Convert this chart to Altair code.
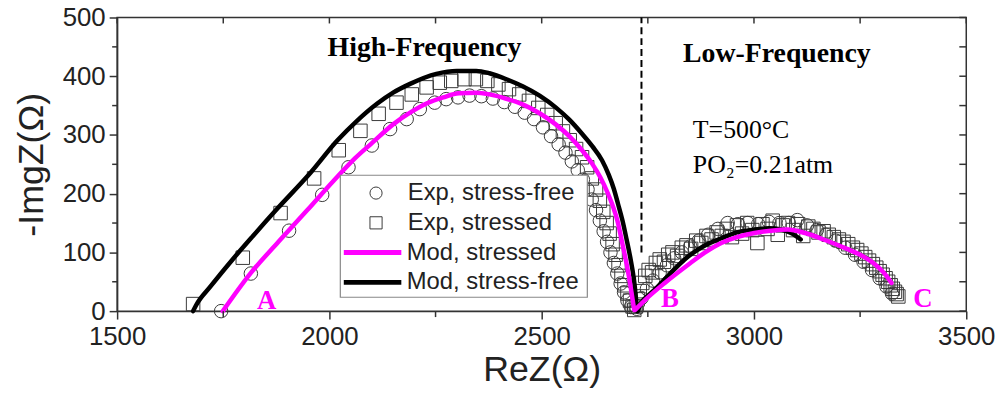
import altair as alt
import pandas as pd

# ---------------- data ----------------
exp_names = ["Exp, stress-free", "Exp, stressed"]
exp_colors = ["#3a3a3a", "#3a3a3a"]
exp_shapes = ["circle", "square"]
mod_names = ["Mod, stressed", "Mod, stress-free"]
mod_colors = ["#ff00ff", "#000000"]

# Exp, stress-free (circles)
exp_free_x = [1745, 1815, 1905, 1983, 2045, 2100, 2143, 2182, 2213, 2248, 2275, 2303, 2330, 2358,
              2385, 2412, 2437, 2460, 2482, 2503, 2522, 2540, 2556, 2571, 2585, 2597, 2608, 2618,
              2628, 2637, 2646, 2654, 2662, 2670, 2678, 2686, 2694, 2702, 2710,
              2724, 2735, 2748, 2762, 2778, 2795, 2812, 2830, 2850, 2870, 2892, 2915, 2938, 2962,
              2985, 3010, 3035, 3060, 3082, 3102, 3125, 3148, 3170, 3192, 3215, 3238, 3258, 3278,
              3296, 3312, 3325]
exp_free_y = [0, 64, 137, 198, 245, 282, 310, 327, 344, 355, 361, 364, 367, 366,
              362, 356, 348, 338, 327, 313, 298, 284, 270, 255, 240, 224, 207, 190,
              172, 154, 136, 118, 100, 82, 64, 47, 32, 18, 7,
              4, 22, 38, 52, 66, 78, 90, 100, 110, 120, 130, 140, 150, 148,
              150, 148, 152, 150, 150, 155, 146, 138, 130, 120, 108, 96, 84, 70,
              56, 42, 30]

# Exp, stressed (squares)
exp_str_x = [1679, 1796, 1885, 1964, 2022, 2073, 2116, 2158, 2194, 2229, 2260, 2287, 2318, 2345,
             2372, 2398, 2423, 2447, 2470, 2492, 2513, 2533, 2550, 2566, 2581, 2595, 2607, 2618,
             2628, 2637, 2645, 2653, 2660, 2667, 2674, 2681, 2688, 2695, 2702, 2708, 2714, 2718,
             2722, 2726, 2731, 2737, 2744, 2752, 2760, 2769, 2778, 2788, 2798, 2808, 2819, 2830,
             2841, 2852, 2864, 2876, 2888, 2900, 2912, 2924, 2936, 2948, 2960, 2972, 2984, 2996,
             3008, 3020, 3032, 3044, 3056, 3068, 3080, 3092, 3104, 3116, 3128, 3140, 3152, 3164,
             3176, 3188, 3200, 3211, 3222, 3233, 3243, 3253, 3262, 3271, 3280, 3288, 3296, 3303,
             3310, 3316, 3322, 3327, 3332, 3336, 3340]
exp_str_y = [12, 91, 167, 226, 274, 307, 336, 355, 369, 381, 389, 392, 395, 395,
             392, 386, 378, 369, 358, 346, 334, 320, 306, 291, 276, 262, 245, 226,
             207, 188, 169, 150, 132, 114, 96, 78, 60, 44, 30, 18, 8, 2,
             8, 20, 34, 48, 60, 70, 66, 82, 88, 84, 96, 100, 94, 108,
             112, 106, 120, 116, 128, 122, 134, 128, 140, 126, 146, 132, 150, 138,
             116, 148, 140, 154, 130, 146, 150, 138, 148, 128, 144, 140, 134, 136,
             130, 126, 122, 118, 114, 108, 104, 98, 92, 86, 80, 74, 68, 62,
             56, 50, 44, 38, 33, 29, 25]

# Mod, stressed (magenta line) - two arcs
mod_str_hf_x = [1749, 1815, 1880, 1948, 2010, 2060, 2100, 2150, 2190, 2230, 2268, 2305, 2346, 2377,
                2415, 2455, 2495, 2533, 2565, 2595, 2618, 2638, 2655, 2668, 2678, 2690, 2700, 2708,
                2714, 2718]
mod_str_hf_y = [0, 65, 118, 172, 222, 260, 286, 318, 338, 354, 364, 371, 372, 369,
                362, 352, 337, 318, 298, 274, 252, 228, 202, 178, 155, 115, 80, 48,
                20, 2]
mod_str_lf_x = [2720, 2745, 2790, 2845, 2885, 2923, 2960, 3001, 3040, 3079, 3120, 3164, 3219, 3250,
                3281, 3305, 3324]
mod_str_lf_y = [2, 20, 48, 79, 100, 116, 126, 133, 137, 139, 133, 122, 106, 96,
                82, 66, 48]

# Mod, stress-free (black line) - two arcs
mod_free_hf_x = [1679, 1686, 1720, 1772, 1820, 1878, 1956, 2018, 2065, 2112, 2150, 2190, 2252, 2300,
                 2346, 2377, 2420, 2455, 2495, 2533, 2565, 2595, 2620, 2642, 2658, 2670, 2680, 2690,
                 2700, 2709, 2716, 2721, 2724, 2725]
mod_free_hf_y = [0, 10, 42, 88, 128, 175, 236, 290, 324, 353, 372, 387, 404, 409,
                 409, 405, 394, 383, 367, 347, 326, 302, 280, 257, 232, 208, 182, 155,
                 122, 90, 60, 30, 5, 0]
mod_free_lf_x = [2726, 2735, 2750, 2767, 2800, 2845, 2880, 2923, 2960, 3001, 3035, 3063, 3090, 3110]
mod_free_lf_y = [0, 15, 26, 37, 62, 93, 110, 124, 134, 139, 141, 139, 132, 122]

# boundary between the two frequency regions
divider_x = [2735]
divider_y = [100]
divider_y2 = [500]

# axis ticks
x_major = [1500, 2000, 2500, 3000, 3500]
x_minor = [1750, 2250, 2750, 3250]
y_major = [0, 100, 200, 300, 400, 500]
y_minor = [50, 150, 250, 350, 450]

# annotations (text, x, y)
region_labels = [("High-Frequency", 2224, 448), ("Low-Frequency", 3054, 437)]
cond_labels = [("T=500°C", 2856, 294), ("PO₂=0.21atm", 2856, 236)]
point_labels = [("A", 1852, 17), ("B", 2802, 20), ("C", 3398, 20)]

# ---------------- tables ----------------
pts = pd.DataFrame(
    [{"series": exp_names[0], "x": a, "y": b} for a, b in zip(exp_free_x, exp_free_y)]
    + [{"series": exp_names[1], "x": a, "y": b} for a, b in zip(exp_str_x, exp_str_y)]
)
pts["k"] = range(len(pts))

rows = []
for name, seg, xs, ys in [
    (mod_names[1], "f1", mod_free_hf_x, mod_free_hf_y),
    (mod_names[1], "f2", mod_free_lf_x, mod_free_lf_y),
    (mod_names[0], "s1", mod_str_hf_x, mod_str_hf_y),
    (mod_names[0], "s2", mod_str_lf_x, mod_str_lf_y),
]:
    for i, (a, b) in enumerate(zip(xs, ys)):
        rows.append({"series": name, "seg": seg, "i": i, "x": a, "y": b})
lines_df = pd.DataFrame(rows)

div_df = pd.DataFrame({"x": divider_x, "y": divider_y, "y2": divider_y2})
region_df = pd.DataFrame(region_labels, columns=["t", "x", "y"])
cond_df = pd.DataFrame(cond_labels, columns=["t", "x", "y"])
pl_df = pd.DataFrame(point_labels, columns=["t", "x", "y"])
xmin_df = pd.DataFrame({"x": x_minor})
xall_df = pd.DataFrame({"x": x_major + x_minor})
ymin_df = pd.DataFrame({"y": y_minor})
yall_df = pd.DataFrame({"y": y_major + y_minor})
box_df = pd.DataFrame({"b": [0]})

# ---------------- scales / axes ----------------
W, H = 856, 296
AX = "#333333"
xs_ = alt.Scale(domain=[1500, 3500], nice=False, zero=False)
ys_ = alt.Scale(domain=[0, 500], nice=False, zero=False)

xaxis = alt.Axis(title="ReZ(Ω)", values=x_major, format="d", grid=False, tickSize=8, tickWidth=1.5,
                 tickColor=AX, domainColor=AX, domainWidth=1.5, labelFontSize=26,
                 labelFont="Liberation Sans", labelColor="#222", labelPadding=5,
                 titleFont="Liberation Sans", titleFontSize=36, titleFontWeight="normal",
                 titleColor="#222", titlePadding=3, labelFlush=False)
yaxis = alt.Axis(title="-ImgZ(Ω)", values=y_major, format="d", grid=False, tickSize=8, tickWidth=1.5,
                 tickColor=AX, domainColor=AX, domainWidth=1.5, labelFontSize=26,
                 labelFont="Liberation Sans", labelColor="#222", labelPadding=4,
                 titleFont="Liberation Sans", titleFontSize=36, titleFontWeight="normal",
                 titleColor="#222", titlePadding=12, labelFlush=False)


def X(f="x"):
    return alt.X(f"{f}:Q", scale=xs_, axis=xaxis)


def Y(f="y"):
    return alt.Y(f"{f}:Q", scale=ys_, axis=yaxis)


exp_leg = alt.Legend(
    title=None, orient="none", legendX=240, legendY=162, padding=0,
    symbolSize=150, symbolStrokeWidth=1, clipHeight=30, rowPadding=0,
    symbolOffset=9, labelOffset=20, zindex=2, labelLimit=400,
    labelFont="Liberation Sans", labelFontSize=24, labelColor="#222",
)
mod_leg = alt.Legend(
    title=None, orient="none", legendX=226, legendY=222, padding=0,
    symbolSize=3364, symbolStrokeWidth=5, symbolType="stroke", clipHeight=30, rowPadding=0,
    symbolOffset=0, labelOffset=3, zindex=2, labelLimit=400,
    labelFont="Liberation Sans", labelFontSize=24, labelColor="#222",
)

# ---------------- layers ----------------
points = alt.Chart(pts).mark_point(filled=False, size=185, strokeWidth=1, opacity=1).encode(
    x=X(), y=Y(),
    color=alt.Color("series:N", scale=alt.Scale(domain=exp_names, range=exp_colors), legend=exp_leg),
    shape=alt.Shape("series:N", scale=alt.Scale(domain=exp_names, range=exp_shapes), legend=exp_leg),
    order=alt.Order("k:Q"),
)

lines = alt.Chart(lines_df).mark_line(strokeWidth=4.5, strokeCap="round", strokeJoin="round",
                                      interpolate="monotone").encode(
    x=X(), y=Y(),
    stroke=alt.Stroke("series:N", scale=alt.Scale(domain=mod_names, range=mod_colors), legend=mod_leg),
    detail="seg:N",
    order="i:Q",
)

divider = alt.Chart(div_df).mark_rule(color="black", strokeWidth=2, strokeDash=[7, 4]).encode(
    x=X(), y=Y(), y2="y2:Q",
)

# legend frame
box = alt.Chart(box_df).mark_rect(fill="white", stroke="#888888", strokeWidth=1.2).encode(
    x=alt.value(225), x2=alt.value(474), y=alt.value(159), y2=alt.value(282))

# minor / mirrored ticks
bot_minor = alt.Chart(xmin_df).mark_rule(color=AX, strokeWidth=1.5).encode(
    x=X(), y=alt.value(H), y2=alt.value(H + 6))
top_ticks = alt.Chart(xall_df).mark_rule(color=AX, strokeWidth=1.5).encode(
    x=X(), y=alt.value(0), y2=alt.value(6))
left_minor = alt.Chart(ymin_df).mark_rule(color=AX, strokeWidth=1.5).encode(
    y=Y(), x=alt.value(0), x2=alt.value(-5))
right_ticks = alt.Chart(yall_df).mark_rule(color=AX, strokeWidth=1.5).encode(
    y=Y(), x=alt.value(W), x2=alt.value(W - 7))

region_text = alt.Chart(region_df).mark_text(
    font="Liberation Serif", fontSize=28, fontWeight="bold", color="black",
    align="center", baseline="middle").encode(x=X(), y=Y(), text="t:N")

cond_text = alt.Chart(cond_df).mark_text(
    font="Liberation Serif", fontSize=26, color="black",
    align="left", baseline="alphabetic").encode(x=X(), y=Y(), text="t:N")

pl_text = alt.Chart(pl_df).mark_text(
    font="Liberation Serif", fontSize=27, fontWeight="bold", color="#ff00ff",
    align="center", baseline="middle").encode(x=X(), y=Y(), text="t:N")

chart = alt.layer(
    divider, points, lines, box, bot_minor, top_ticks, left_minor, right_ticks,
    region_text, cond_text, pl_text,
).resolve_scale(
    color="independent", shape="independent", stroke="independent"
).resolve_legend(
    color="independent", shape="independent", stroke="independent"
).properties(
    width=W, height=H,
    autosize=alt.AutoSizeParams(type="none"),
    padding={"left": 110, "top": 8, "right": 33, "bottom": 86},
    background="white",
).configure_view(stroke=AX, strokeWidth=1.5)

chart.save("out.html", embed_options={"renderer": "svg", "actions": False})
